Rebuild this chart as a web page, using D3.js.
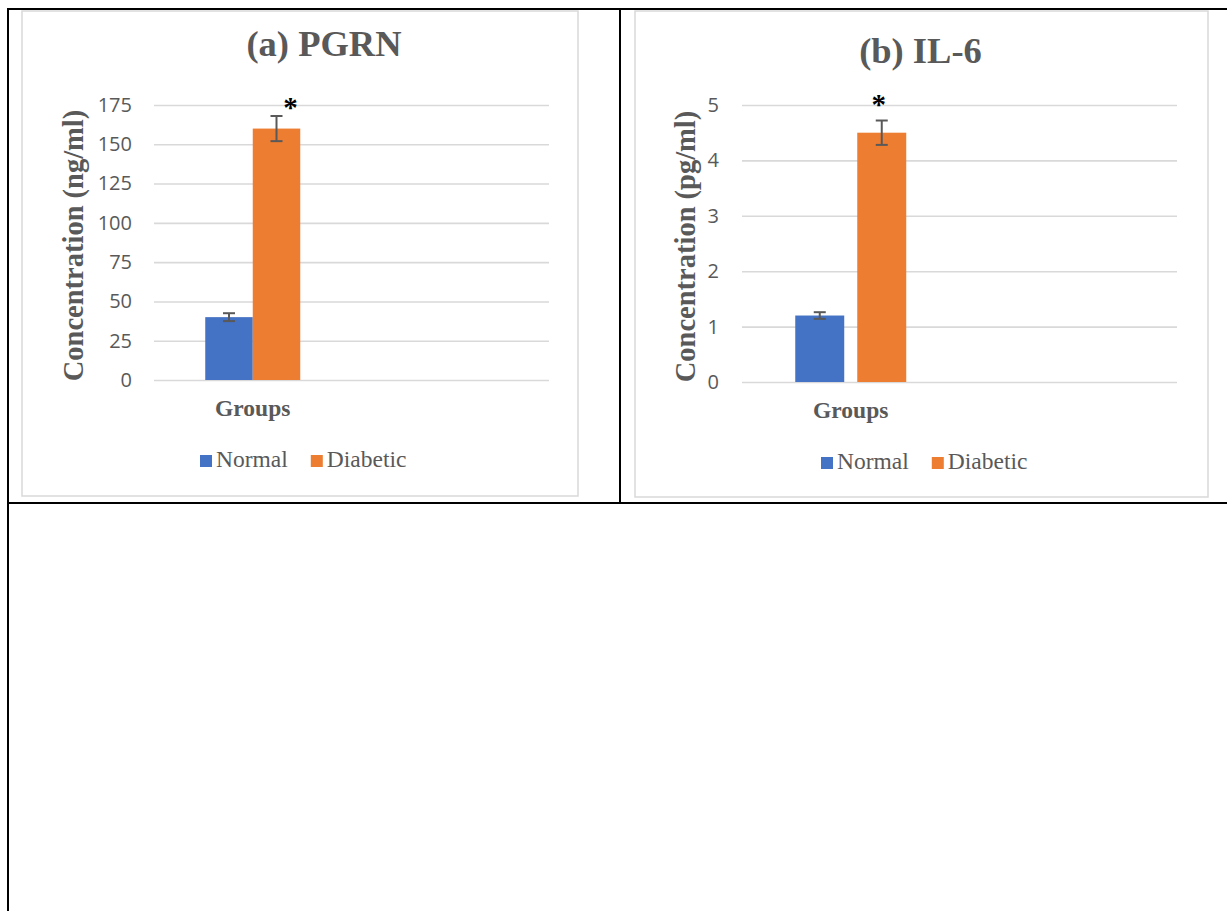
<!DOCTYPE html>
<html>
<head>
<meta charset="utf-8">
<script src="https://cdn.jsdelivr.net/npm/d3@7"></script>
<style>
  html, body { margin: 0; padding: 0; background: #fff; }
  svg { display: block; }
</style>
</head>
<body>
<svg id="fig" width="1227" height="911"></svg>
<script>
// Group means and standard errors for each marker
const categories = ["Groups", ""];
const seriesNames = ["Normal", "Diabetic"];
const seriesColors = ["#4472C4", "#ED7D31"];

const pgrnMeans = [40, 160];
const pgrnErrors = [2.5, 8];
const pgrnTicks = [0, 25, 50, 75, 100, 125, 150, 175];

const il6Means = [1.2, 4.5];
const il6Errors = [0.06, 0.22];
const il6Ticks = [0, 1, 2, 3, 4, 5];

const svg = d3.select("#fig");
const gray = "#595959";
const gridColor = "#d9d9d9";

// Table cell borders
const table = svg.append("g").attr("stroke", "#000").attr("stroke-width", 2);
table.append("line").attr("x1", 8).attr("x2", 1227).attr("y1", 9).attr("y2", 9);
table.append("line").attr("x1", 8).attr("x2", 8).attr("y1", 8).attr("y2", 911);
table.append("line").attr("x1", 620).attr("x2", 620).attr("y1", 8).attr("y2", 503);
table.append("line").attr("x1", 8).attr("x2", 1227).attr("y1", 503).attr("y2", 503);

function drawPanel(opt) {
  const g = svg.append("g");

  // chart area frame
  g.append("rect")
    .attr("x", opt.frame[0]).attr("y", opt.frame[1])
    .attr("width", opt.frame[2] - opt.frame[0]).attr("height", opt.frame[3] - opt.frame[1])
    .attr("fill", "#fff").attr("stroke", gridColor).attr("stroke-width", 1.5);

  const y = d3.scaleLinear().domain([0, opt.max]).range([opt.plotBottom, opt.plotTop]);
  const x0 = d3.scaleBand().domain(categories).range([opt.plotLeft, opt.plotRight]);
  const x1 = d3.scaleBand().domain(seriesNames).range([0, x0.bandwidth()])
    .paddingInner(opt.padIn).paddingOuter(opt.padOut);

  // gridlines + tick labels
  const axis = g.append("g")
    .attr("transform", `translate(${opt.plotLeft},0)`)
    .call(d3.axisLeft(y).tickValues(opt.ticks).tickSize(-(opt.plotRight - opt.plotLeft))
      .tickPadding(opt.tickPad).tickFormat(d3.format("d")));
  axis.select(".domain").remove();
  axis.selectAll(".tick line").attr("stroke", gridColor).attr("stroke-width", 1.6);
  axis.selectAll(".tick text")
    .attr("fill", gray)
    .style("font-family", "'Open Sans', 'Noto Sans', sans-serif")
    .style("font-size", "20px");

  // bars
  const cx = x0(categories[0]);
  g.selectAll("rect.bar").data(opt.means).join("rect")
    .attr("class", "bar")
    .attr("x", (d, i) => cx + x1(seriesNames[i]))
    .attr("width", x1.bandwidth())
    .attr("y", d => y(d))
    .attr("height", d => y(0) - y(d))
    .attr("fill", (d, i) => seriesColors[i]);

  // error bars
  const eb = g.append("g").attr("stroke", gray).attr("stroke-width", 2);
  opt.means.forEach((m, i) => {
    const xc = cx + x1(seriesNames[i]) + x1.bandwidth() / 2;
    const e = opt.errors[i];
    eb.append("line").attr("x1", xc).attr("x2", xc).attr("y1", y(m + e)).attr("y2", y(m - e));
    eb.append("line").attr("x1", xc - 6).attr("x2", xc + 6).attr("y1", y(m + e)).attr("y2", y(m + e));
    eb.append("line").attr("x1", xc - 6).attr("x2", xc + 6).attr("y1", y(m - e)).attr("y2", y(m - e));
  });

  // significance mark
  const dIdx = 1;
  const xs = cx + x1(seriesNames[dIdx]) + x1.bandwidth() / 2 + opt.starDx;
  g.append("text")
    .attr("x", xs).attr("y", y(opt.means[dIdx] + opt.errors[dIdx]) - opt.starGap)
    .attr("text-anchor", "middle")
    .style("font-family", "'Liberation Serif', 'Times New Roman', serif")
    .style("font-weight", "bold").style("font-size", "29px")
    .attr("fill", "#000").text("*");

  // title
  g.append("text")
    .attr("x", opt.titleX).attr("y", opt.titleY)
    .attr("text-anchor", "middle")
    .style("font-family", "'Liberation Serif', 'Times New Roman', serif")
    .style("font-weight", "bold").style("font-size", "36.5px")
    .attr("fill", gray).text(opt.title);

  // y-axis title
  g.append("text")
    .attr("transform", `translate(${opt.yTitleX},${(opt.plotTop + opt.plotBottom) / 2 + opt.yTitleDy}) rotate(-90)`)
    .attr("text-anchor", "middle")
    .style("font-family", "'Liberation Serif', 'Times New Roman', serif")
    .style("font-weight", "bold").style("font-size", "28.5px")
    .attr("fill", gray).text(opt.yTitle);

  // category label
  g.append("text")
    .attr("x", cx + x0.bandwidth() / 2).attr("y", opt.catY)
    .attr("text-anchor", "middle")
    .style("font-family", "'Liberation Serif', 'Times New Roman', serif")
    .style("font-weight", "bold").style("font-size", "23.5px")
    .attr("fill", gray).text(categories[0]);

  // legend
  const lg = g.append("g").attr("transform", `translate(${opt.legendX},${opt.legendY})`);
  let lx = 0;
  seriesNames.forEach((name, i) => {
    lg.append("rect").attr("x", lx).attr("y", -12).attr("width", 12).attr("height", 12)
      .attr("fill", seriesColors[i]);
    const t = lg.append("text").attr("x", lx + 16).attr("y", 0)
      .style("font-family", "'Liberation Serif', 'Times New Roman', serif")
      .style("font-size", "23.5px").attr("fill", gray).text(name);
    lx += 16 + t.node().getComputedTextLength() + 23;
  });
}

drawPanel({
  frame: [22, 11, 578, 496],
  plotLeft: 154, plotRight: 549, plotTop: 105, plotBottom: 380,
  max: 175, ticks: pgrnTicks, tickPad: 22,
  padIn: 0, padOut: 1.079,
  means: pgrnMeans, errors: pgrnErrors,
  starDx: 14, starGap: -1,
  title: "(a) PGRN", titleX: 324, titleY: 56,
  yTitle: "Concentration (ng/ml)", yTitleX: 83, yTitleDy: 3,
  catY: 416, legendX: 200, legendY: 467
});

drawPanel({
  frame: [635, 11, 1208, 497],
  plotLeft: 742, plotRight: 1177, plotTop: 105, plotBottom: 382,
  max: 5, ticks: il6Ticks, tickPad: 23,
  padIn: 0.21, padOut: 0.859,
  means: il6Means, errors: il6Errors,
  starDx: -3, starGap: 7,
  title: "(b) IL-6", titleX: 920.5, titleY: 63,
  yTitle: "Concentration (pg/ml)", yTitleX: 695, yTitleDy: 3,
  catY: 418, legendX: 821, legendY: 469
});
</script>
</body>
</html>
